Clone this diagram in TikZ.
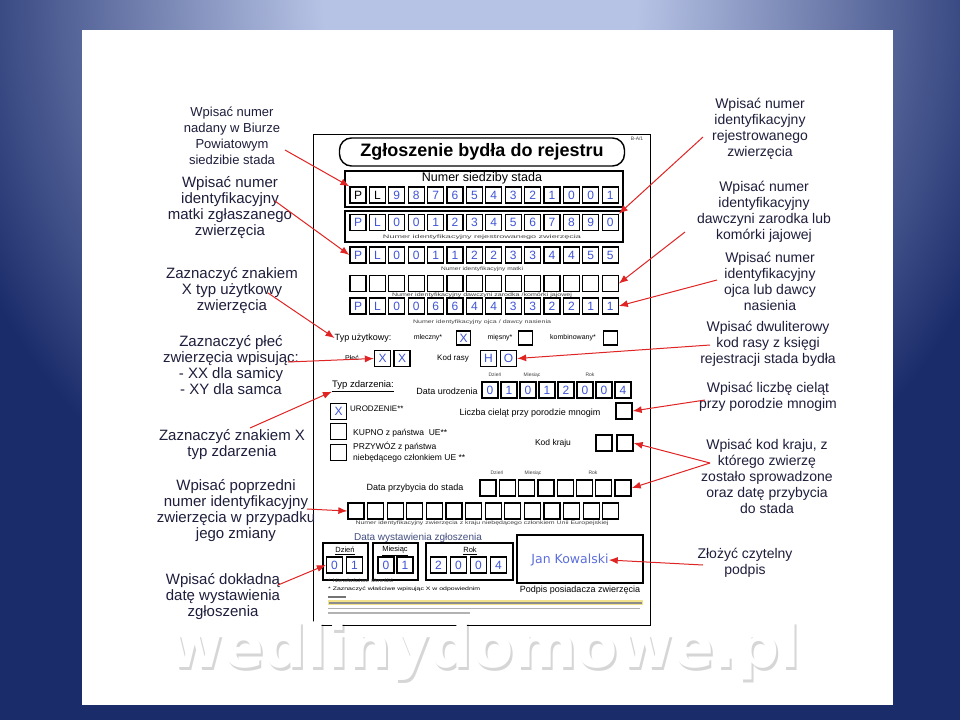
\documentclass[tikz,border=0pt]{standalone}
\usepackage{fontspec}
\setmainfont{Liberation Sans}
\newfontfamily\markfont{DejaVu Sans}
\usetikzlibrary{arrows.meta}
\definecolor{bgdark}{HTML}{1B2C6B}
\definecolor{bglight}{HTML}{B7C3E5}
\definecolor{noteink}{HTML}{1E1E3C}
\definecolor{formblue}{HTML}{3F55D6}
\definecolor{arrowred}{HTML}{E02424}
\definecolor{slate}{HTML}{434E80}
\definecolor{marker}{HTML}{F2E38A}
\pgfdeclareradialshading{bgglow}{\pgfpoint{0bp}{0bp}}%
  {color(0bp)=(bglight); color(7bp)=(bglight); color(25bp)=(bgdark); color(50bp)=(bgdark)}
\newcommand\fitw[2]{\resizebox{#1}{\height}{#2}}

\begin{document}
\begin{tikzpicture}
  [x=1pt,y=-1pt,
   note/.style={align=center,text=noteink,inner sep=0pt,font=\fontsize{15}{16}\selectfont},
   rnote/.style={note,font=\fontsize{14}{16}\selectfont},
   cell/.style={draw,line width=1.3pt,minimum width=16pt,minimum height=16pt,inner sep=0pt,text=formblue,font=\fontsize{12}{12}\selectfont},
   chk/.style={cell,minimum width=14pt,minimum height=14pt},
   lab/.style={inner sep=0pt,font=\fontsize{9}{10}\selectfont},
   smalllab/.style={inner sep=0pt,font=\fontsize{7}{8}\selectfont},
   smallprint/.style={inner sep=0pt,text=black!75,font=\fontsize{5}{6}\selectfont},
   boxline/.style={line width=1.1pt},
   wmark/.style={inner sep=0pt,font=\markfont\bfseries\fontsize{60}{60}\selectfont},
   redarrow/.style={draw=arrowred,line width=1pt,-{Latex[length=9pt,width=7pt]}}]
  \useasboundingbox (0,0) rectangle (960,720);

  % background and page
  \begin{scope}
    \clip (0,0) rectangle (960,720);
    \fill[bgdark] (0,0) rectangle (960,720);
    \shade[shading=bgglow] (480,0) ellipse [x radius=560pt, y radius=600pt];
  \end{scope}
  \fill[white] (82,30) rectangle (893,705);

  % the form
  \draw[line width=1pt] (313,134) rectangle (650,625);
  \node[draw,line width=1.4pt,rounded corners=12pt,minimum width=285pt,minimum height=28pt,
        font=\fontsize{18}{18}\selectfont\bfseries] (title) at (482,152) {Zgłoszenie bydła do rejestru};
  \node[smallprint] (code) at (637,139) {B-A/1};

  \draw[boxline] (345,171) rectangle (623,207);
  \node[inner sep=0pt,font=\fontsize{12.5}{13}\selectfont] (herdlab) at (482,178) {Numer siedziby stada};
  \foreach \c [count=\i] in {P,L,9,8,7,6,5,4,3,2,1,0,0,1}
    {\ifnum\i<3 \def\ink{black}\else\def\ink{formblue}\fi
     \node[cell,text=\ink] (hs\i) at ({358+19.4*(\i-1)},195) {\c};}

  \draw[boxline] (345,211) rectangle (623,242);
  \foreach \c [count=\i] in {P,L,0,0,1,2,3,4,5,6,7,8,9,0}
    \node[cell] (ri\i) at ({358+19.4*(\i-1)},222.5) {\c};
  \node[smallprint] (rilab) at (482,237) {\fitw{198pt}{Numer identyfikacyjny rejestrowanego zwierzęcia}};

  \foreach \c [count=\i] in {P,L,0,0,1,1,2,2,3,3,4,4,5,5}
    \node[cell] (mo\i) at ({358+19.4*(\i-1)},255) {\c};
  \node[smallprint] (molab) at (482,269) {\fitw{82pt}{Numer identyfikacyjny matki}};

  \foreach \i in {1,...,14}
    \node[cell] (do\i) at ({358+19.4*(\i-1)},283.5) {};
  \node[smallprint] (dolab) at (482,295) {\fitw{180pt}{Numer identyfikacyjny dawczyni zarodka /komórki jajowej}};

  \foreach \c [count=\i] in {P,L,0,0,6,6,4,4,3,3,2,2,1,1}
    \node[cell] (fa\i) at ({358+19.4*(\i-1)},306) {\c};
  \node[smallprint] (falab) at (482,322) {\fitw{138pt}{Numer identyfikacyjny ojca / dawcy nasienia}};

  \node[lab] (tu) at (363,338) {Typ użytkowy:};
  \node[smalllab] (ml) at (428,338) {mleczny*};
  \node[chk] (mlx) at (463.5,338) {X};
  \node[smalllab] (mi) at (500,338) {mięsny*};
  \node[chk] (mix) at (525.5,338) {};
  \node[smalllab] (ko) at (573,338) {kombinowany*};
  \node[chk] (kox) at (610.5,338) {};

  \node[smalllab] (pl) at (352,358) {Płeć};
  \node[cell] (pl1) at (382.5,358.5) {X};
  \node[cell] (pl2) at (402,358.5) {X};
  \node[smalllab,font=\fontsize{8}{9}\selectfont] (kr) at (453,358) {Kod rasy};
  \node[cell] (kr1) at (488.5,358.5) {H};
  \node[cell] (kr2) at (508.5,358.5) {O};

  \node[lab,font=\fontsize{9.5}{10}\selectfont] (tz) at (363,386) {\underline{Typ zdarzenia:}};
  \node[smallprint] (dh1) at (495,375) {Dzień};
  \node[smallprint] (dh2) at (532,375) {Miesiąc};
  \node[smallprint] (dh3) at (590,375) {Rok};
  \node[lab] (dulab) at (447,391) {Data urodzenia};
  \foreach \c [count=\i] in {0,1,0,1,2,0,0,4}
    \node[cell] (du\i) at ({490+19*(\i-1)},390) {\c};
  \node[cell] (lc) at (624,411) {};
  \node[lab] (lclab) at (530,413) {Liczba cieląt przy porodzie mnogim};

  \node[cell] (ev1) at (338.5,411.5) {X};
  \node[cell] (ev2) at (338.5,431.5) {};
  \node[cell] (ev3) at (338.5,452.5) {};
  \node[lab,anchor=west,font=\fontsize{8}{9}\selectfont] (ev1lab) at (350,409) {URODZENIE**};
  \node[lab,anchor=west,font=\fontsize{8.5}{9}\selectfont] (ev2lab) at (353,433) {KUPNO z państwa\ \ UE**};
  \node[lab,anchor=west,align=left,font=\fontsize{8.5}{11}\selectfont] (ev3lab) at (353,452.5) {PRZYWÓZ z państwa\\niebędącego członkiem UE **};

  \node[lab,font=\fontsize{8.5}{9}\selectfont] (kk) at (553,443) {Kod kraju};
  \node[cell] (kk1) at (604,443) {};
  \node[cell] (kk2) at (625,443) {};

  \node[smallprint] (dh4) at (497,473) {Dzień};
  \node[smallprint] (dh5) at (533,473) {Miesiąc};
  \node[smallprint] (dh6) at (593,473) {Rok};
  \node[lab] (dplab) at (415,488) {Data przybycia do stada};
  \foreach \i in {1,...,8}
    \node[cell] (dp\i) at ({488+19.3*(\i-1)},488) {};

  \foreach \i in {1,...,14}
    \node[cell] (pn\i) at ({356+19.6*(\i-1)},511) {};
  \node[smallprint] (pnlab) at (482,523) {\fitw{253pt}{Numer identyfikacyjny zwierzęcia z kraju niebędącego członkiem Unii Europejskiej}};

  \node[inner sep=0pt,text=slate,font=\fontsize{10}{11}\selectfont] (dwlab) at (418,538) {Data wystawienia zgłoszenia};
  \draw[boxline] (323,543) rectangle (368,580);
  \draw[boxline] (373,543) rectangle (418,580);
  \draw[boxline] (426,543) rectangle (513,580);
  \node[smalllab,font=\fontsize{7.5}{8}\selectfont] (wdd) at (345,551) {\underline{Dzień}};
  \node[smalllab,font=\fontsize{7.5}{8}\selectfont] (wdm) at (395,551) {\underline{Miesiąc}};
  \node[smalllab,font=\fontsize{7.5}{8}\selectfont] (wdr) at (470,551) {\underline{Rok}};
  \node[cell] (dd1) at (334.5,565) {0};
  \node[cell] (dd2) at (354.5,565) {1};
  \node[cell] (dm1) at (386,565) {0};
  \node[cell] (dm2) at (405,565) {1};
  \foreach \c [count=\i] in {2,0,0,4}
    \node[cell] (dr\i) at ({438.5+20*(\i-1)},565) {\c};

  \draw[boxline] (517,535) rectangle (643,583);
  \node[inner sep=0pt,text=formblue!85!white,font=\markfont\fontsize{12.5}{13}\selectfont] (jk) at (570,560) {Jan Kowalski};
  \node[lab] (podpis) at (580,590) {Podpis posiadacza zwierzęcia};

  \node[smallprint,anchor=west] (fn1) at (328,581) {\fitw{65pt}{* Niewłaściwe skreślić}};
  \node[smallprint,anchor=west,text=black] (fn2) at (328,589) {\fitw{152pt}{* Zaznaczyć właściwe wpisując X w odpowiednim}};
  \fill[black!55] (328,595.5) rectangle (346,597.5);
  \fill[marker] (328,599.5) rectangle (643,605);
  \fill[black!45] (329,601.5) rectangle (642,603.5);
  \fill[black!30] (328,607.5) rectangle (640,609);
  \fill[black!30] (328,612) rectangle (470,613.5);

  % notes on the left
  \node[note,font=\fontsize{13}{16}\selectfont] (l1) at (232,136) {Wpisać numer\\nadany w Biurze\\Powiatowym\\siedzibie stada};
  \node[note] (l2) at (230,208) {Wpisać numer\\identyfikacyjny\\matki zgłaszanego\\zwierzęcia};
  \node[note] (l3) at (232,291) {Zaznaczyć znakiem\\X typ użytkowy\\zwierzęcia};
  \node[note] (l4) at (231,365) {Zaznaczyć płeć\\zwierzęcia wpisując:\\- XX dla samicy\\- XY dla samca};
  \node[note] (l5) at (232,445) {Zaznaczyć znakiem X\\typ zdarzenia};
  \node[note] (l6) at (236,511) {Wpisać poprzedni\\numer identyfikacyjny\\zwierzęcia w przypadku\\jego zmiany};
  \node[note] (l7) at (223,597) {Wpisać dokładną\\datę wystawienia\\zgłoszenia};

  % notes on the right
  \node[rnote] (r1) at (760,129) {Wpisać numer\\identyfikacyjny\\rejestrowanego\\zwierzęcia};
  \node[rnote] (r2) at (764,212) {Wpisać numer\\identyfikacyjny\\dawczyni zarodka lub\\komórki jajowej};
  \node[rnote] (r3) at (770,281) {Wpisać numer\\identyfikacyjny\\ojca lub dawcy\\nasienia};
  \node[rnote] (r4) at (768,344) {Wpisać dwuliterowy\\kod rasy z księgi\\rejestracji stada bydła};
  \node[rnote] (r5) at (768,397) {Wpisać liczbę cieląt\\przy porodzie mnogim};
  \node[rnote] (r6) at (767,476) {Wpisać kod kraju, z\\którego zwierzę\\zostało sprowadzone\\oraz datę przybycia\\do stada};
  \node[rnote] (r7) at (745,563) {Złożyć czytelny\\podpis};

  % arrows
  \coordinate (s1) at (285,150);
  \coordinate (s2) at (275,201);
  \coordinate (s3) at (268,293);
  \coordinate (s4) at (288,362);
  \coordinate (s5) at (250,428);
  \coordinate (s6) at (307,509);
  \coordinate (s7) at (278,585);
  \draw[redarrow] (s1) -- (hs1.north west);
  \draw[redarrow] (s2) -- (mo1.west);
  \draw[redarrow] (s3) -- (tu.west);
  \draw[redarrow] (s4) -- (pl1.west);
  \draw[redarrow] (s5) -- (tz.south west);
  \draw[redarrow] (s6) -- (pn1.west);
  \draw[redarrow] (s7) -- (dd1.west);

  \coordinate (t1) at (703,137);
  \coordinate (t2) at (685,232);
  \coordinate (t3) at (717,280);
  \coordinate (t4) at (710,345);
  \coordinate (t5) at (705,400);
  \coordinate (t6) at (710,463);
  \coordinate (t7) at (703,565);
  \draw[redarrow] (t1) -- (ri14.north east);
  \draw[redarrow] (t2) -- (do14.east);
  \draw[redarrow] (t3) -- (fa14.east);
  \draw[redarrow] (t4) -- (kr2.east);
  \draw[redarrow] (t5) -- (lc.east);
  \draw[redarrow] (t6) -- (kk2.east);
  \draw[redarrow] (t6) -- (dp8.east);
  \draw[redarrow] (t7) -- (jk.east);

  % watermark
  \node[wmark,text=black,opacity=0.16] (wmshadow) at (486,654) {wedlinydomowe.pl};
  \node[wmark,text=white] (wm) at (484,651) {wedlinydomowe.pl};
\end{tikzpicture}
\end{document}
